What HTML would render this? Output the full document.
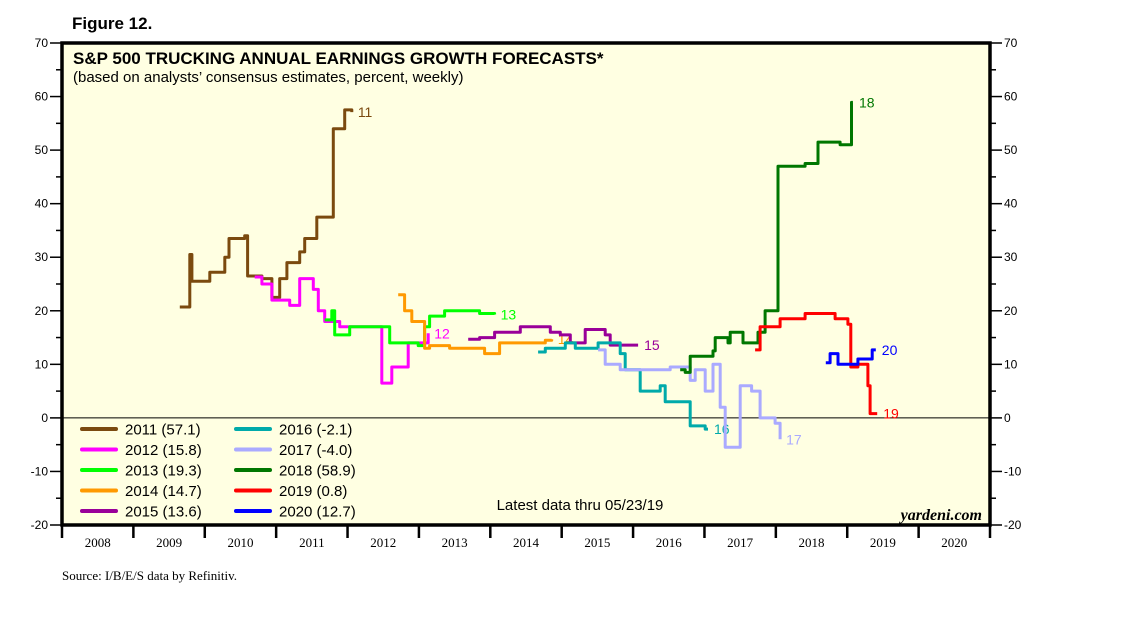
<!DOCTYPE html>
<html><head><meta charset="utf-8"><style>
body{margin:0;background:#fff;width:1138px;height:621px;overflow:hidden}
svg text{font-family:"Liberation Sans",Arial,sans-serif}
</style></head><body>
<svg id="chart" width="1138" height="621" xmlns="http://www.w3.org/2000/svg">
<text x="72" y="29" font-size="17" font-weight="bold">Figure 12.</text>
<rect x="62" y="43" width="928" height="482" fill="#ffffe2"/>
<g id="grid"></g>
<g id="series"></g>
<rect x="62" y="43" width="928" height="482" fill="none" stroke="#000" stroke-width="3.5"/>
<text x="73" y="64" font-size="17" font-weight="bold">S&amp;P 500 TRUCKING ANNUAL EARNINGS GROWTH FORECASTS*</text>
<text x="73" y="82" font-size="15">(based on analysts’ consensus estimates, percent, weekly)</text>
<text x="580" y="510" font-size="15" text-anchor="middle">Latest data thru 05/23/19</text>
<text x="982" y="520" font-size="16" font-weight="bold" font-style="italic" text-anchor="end" style="font-family:'Liberation Serif',serif">yardeni.com</text>
<text x="62" y="580" font-size="13" style="font-family:'Liberation Serif',serif">Source: I/B/E/S data by Refinitiv.</text>
<g id="legend"></g>
</svg>
<script>
const yTicks=[-20,-10,0,10,20,30,40,50,60,70];
const yearLabels=[2008,2009,2010,2011,2012,2013,2014,2015,2016,2017,2018,2019,2020];
const names=["2011","2012","2013","2014","2015","2016","2017","2018","2019","2020"];
const finals=["57.1","15.8","19.3","14.7","13.6","-2.1","-4.0","58.9","0.8","12.7"];
const colors=["#7b4a0f","#ff00ff","#00ff00","#ff9900","#990099","#00aaaa","#aaaaff","#007700","#ff0000","#0000ff"];
const d2011=[2009.65,2009.77,2009.79,2009.82,2010.07,2010.28,2010.34,2010.56,2010.60,2010.80,2010.94,2011.05,2011.15,2011.33,2011.40,2011.57,2011.80,2011.96,2012.06];
const v2011=[20.7,20.7,30.5,25.5,27.2,30,33.5,34,26.5,26,22.5,26,29,31,33.5,37.5,54,57.5,57.1];
const d2012=[2010.70,2010.80,2010.94,2011.19,2011.33,2011.52,2011.59,2011.68,2011.89,2012.48,2012.62,2012.85,2013.13];
const v2012=[26.3,25,22,21,26,24,20,18,17,6.5,9.5,14,15.8];
const d2013=[2011.68,2011.78,2011.82,2012.03,2012.59,2012.99,2013.08,2013.15,2013.36,2013.85,2014.06];
const v2013=[18.3,20,15.5,17,14,13.5,17,19,20,19.5,19.3];
const d2014=[2012.71,2012.80,2012.90,2013.08,2013.15,2013.43,2013.92,2014.13,2014.77,2014.86];
const v2014=[23,20,18,13,13.5,13,12,14,14.5,14.7];
const d2015=[2013.69,2013.85,2014.06,2014.42,2014.84,2014.98,2015.12,2015.33,2015.61,2015.68,2016.07];
const v2015=[14.7,15,16,17,16,15.5,14,16.5,15.5,13.6,13.6];
const d2016=[2014.67,2014.77,2015.05,2015.19,2015.51,2015.82,2015.89,2016.10,2016.38,2016.45,2016.80,2017.01,2017.05];
const v2016=[12.3,13,14,13,14,12,9,5,6,3,-1.5,-2.1,-2.1];
const d2017=[2015.51,2015.61,2015.82,2016.52,2016.80,2016.87,2017.01,2017.12,2017.22,2017.29,2017.50,2017.66,2017.78,2017.99,2018.06];
const v2017=[12.7,10,9,9.5,7,9,5,10,2,-5.5,6,5,0,-1,-4];
const d2018=[2016.66,2016.73,2016.80,2017.12,2017.15,2017.33,2017.36,2017.54,2017.75,2017.85,2018.03,2018.41,2018.59,2018.90,2019.06,2019.08];
const v2018=[9,8.5,11.5,12.5,15,14,16,14,16,20,47,47.5,51.5,51,58.9,58.9];
const d2019=[2017.71,2017.78,2018.06,2018.41,2018.83,2019.01,2019.05,2019.15,2019.29,2019.32,2019.42];
const v2019=[12.7,17,18.5,19.5,18.5,17.5,9.5,10,6,0.8,0.8];
const d2020=[2018.70,2018.76,2018.87,2019.15,2019.35,2019.40];
const v2020=[10.3,12,10,11,12.7,12.7];
const allDates=[d2011,d2012,d2013,d2014,d2015,d2016,d2017,d2018,d2019,d2020];
const allVals=[v2011,v2012,v2013,v2014,v2015,v2016,v2017,v2018,v2019,v2020];

const NS="http://www.w3.org/2000/svg";
const X0=62,X1=990,Y0=43,Y1=525;
const xs=t=>X0+(t-2008)*(X1-X0)/13;
const ys=v=>Y1-(v+20)*(Y1-Y0)/90;
function mk(tag,attrs,parent,txt){const e=document.createElementNS(NS,tag);for(const k in attrs)e.setAttribute(k,attrs[k]);if(txt!==undefined)e.textContent=txt;parent.appendChild(e);return e;}
const grid=document.getElementById('grid');
// zero line
const zl=mk('line',{x1:X0,x2:X1,y1:ys(0),y2:ys(0),stroke:'#000','stroke-width':1},grid);


for(let v=-20;v<=70;v+=5){
  const major=v%10===0;
  const l=mk('line',{x1:X0-(major?12:6),x2:X0,y1:ys(v),y2:ys(v),stroke:'#000','stroke-width':1.5},grid);
  
  
  const r=mk('line',{x1:X1,x2:X1+(major?12:6),y1:ys(v),y2:ys(v),stroke:'#000','stroke-width':1.5},grid);
  
  
}
yTicks.forEach(v=>{
  const a=mk('text',{x:X0-14,y:ys(v)+4,'font-size':12,'text-anchor':'end'},grid,String(v));
  
  
  const b=mk('text',{x:X1+14,y:ys(v)+4,'font-size':12},grid,String(v));
  
  
});
for(let y=2008;y<=2021;y++){
  const t=mk('line',{x1:xs(y),x2:xs(y),y1:Y1,y2:Y1+13,stroke:'#000','stroke-width':2.5},grid);
  
  
}
yearLabels.forEach(y=>{
  const t=mk('text',{x:xs(y+0.5),y:Y1+22,'font-size':13,'text-anchor':'middle',style:"font-family:'Liberation Serif',serif"},grid,String(y));
  
  
});
const sg=document.getElementById('series');
allDates.forEach((ds,i)=>{
  const vs=allVals[i];
  let p='M'+xs(ds[0]).toFixed(1)+','+ys(vs[0]).toFixed(1);
  for(let k=1;k<ds.length;k++){p+=' H'+xs(ds[k]).toFixed(1)+' V'+ys(vs[k]).toFixed(1);}
  const path=mk('path',{d:p,fill:'none',stroke:colors[i],'stroke-width':3,'stroke-linejoin':'round'},sg);
  
  
  const lx=xs(ds[ds.length-1])+6, ly=ys(vs[vs.length-1])+5;
  const lab=mk('text',{x:lx,y:ly,'font-size':14,fill:colors[i]},sg,names[i].slice(2));
  
  
});
const lg=document.getElementById('legend');
names.forEach((n,i)=>{
  const col=i<5?0:1,row=i%5;
  const x=82+col*154,y=429+row*20.5;
  const l=mk('line',{x1:x,x2:x+34,y1:y,y2:y,stroke:colors[i],'stroke-width':4,'stroke-linecap':'round'},lg);
  
  
  const t=mk('text',{x:x+43,y:y+5.5,'font-size':15},lg,n+' ('+finals[i]+')');
  
  
});
</script>
</body></html>
